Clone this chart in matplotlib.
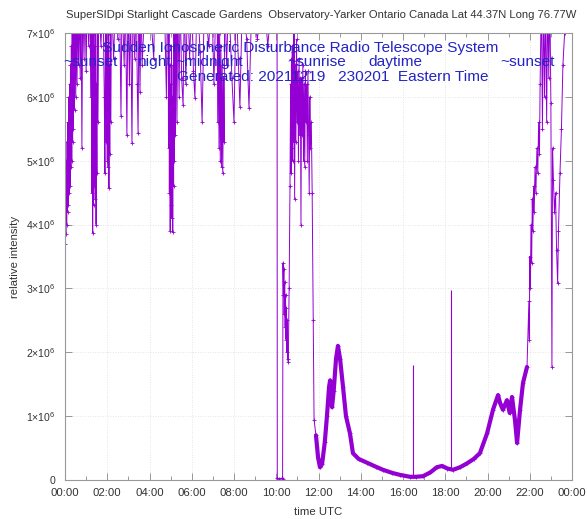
import numpy as np
import matplotlib
matplotlib.use('Agg')
import matplotlib.pyplot as plt
from matplotlib.ticker import FuncFormatter, MultipleLocator

plt.rcParams['font.family'] = ['Liberation Sans', 'DejaVu Sans']
plt.rcParams['mathtext.fontset'] = 'custom'
plt.rcParams['mathtext.rm'] = 'Liberation Sans'
plt.rcParams['mathtext.it'] = 'Liberation Sans:italic'

# Signal as (hour UTC, relative intensity in millions).
# 7.6 means the trace is above the top of the plot (clipped).
night = [
    (0.00, 3.70), (0.02, 4.50), (0.04, 3.85), (0.06, 5.00), (0.08, 4.00),
    (0.10, 5.30), (0.12, 4.20), (0.14, 5.60), (0.16, 4.30), (0.18, 6.00),
    (0.20, 4.50), (0.22, 6.20), (0.24, 4.60), (0.26, 6.50), (0.28, 4.90),
    (0.30, 6.80), (0.32, 5.00), (0.34, 7.60), (0.36, 5.30), (0.38, 7.60),
    (0.40, 5.50), (0.42, 7.60), (0.45, 5.80), (0.48, 7.60), (0.51, 6.00),
    (0.54, 7.60), (0.57, 6.20), (0.60, 7.60), (0.64, 6.50), (0.68, 7.60),
    (0.72, 6.30), (0.76, 7.60), (0.80, 5.20), (0.84, 7.60), (0.90, 6.60),
    (0.95, 7.60), (1.00, 6.40), (1.05, 7.60), (1.12, 6.80), (1.18, 7.60),
    (1.22, 6.00), (1.25, 7.60), (1.27, 4.50), (1.29, 7.60), (1.31, 3.87),
    (1.33, 6.50), (1.35, 4.30), (1.37, 7.00), (1.39, 4.60), (1.41, 6.80),
    (1.43, 4.40), (1.45, 7.60), (1.47, 4.00), (1.49, 6.20), (1.51, 4.80),
    (1.53, 7.60), (1.56, 5.60), (1.60, 7.60), (1.70, 6.80), (1.80, 7.60),
    (1.86, 6.00), (1.89, 4.80), (1.92, 7.60), (1.95, 5.30), (1.98, 7.60),
    (2.00, 5.00), (2.02, 6.80), (2.04, 4.90), (2.06, 7.00), (2.08, 4.57),
    (2.10, 6.50), (2.12, 5.10), (2.14, 7.60), (2.17, 5.60), (2.20, 7.60),
    (2.30, 6.60), (2.40, 7.60), (2.50, 6.90), (2.58, 7.60), (2.65, 5.70),
    (2.70, 7.60), (2.80, 6.50), (2.86, 7.60), (2.93, 5.40), (2.98, 7.60),
    (3.05, 6.20), (3.10, 7.60), (3.17, 5.27), (3.22, 7.60), (3.30, 6.60),
    (3.38, 7.60), (3.42, 6.20), (3.46, 5.43), (3.50, 7.60), (3.55, 6.07),
    (3.60, 7.60), (3.65, 6.50), (3.80, 7.60), (4.00, 7.60), (4.20, 6.60),
    (4.25, 7.60), (4.50, 7.60), (4.70, 7.60), (4.80, 6.00), (4.85, 7.60),
    (4.88, 7.60), (4.90, 5.20), (4.92, 7.00), (4.94, 4.50), (4.96, 6.50),
    (4.98, 3.90), (5.00, 6.20), (5.02, 4.30), (5.04, 6.80), (5.06, 4.10),
    (5.08, 6.00), (5.10, 3.88), (5.12, 6.50), (5.14, 4.60), (5.16, 7.00),
    (5.18, 5.00), (5.20, 7.60), (5.23, 5.40), (5.26, 7.60), (5.30, 5.60),
    (5.34, 7.60), (5.40, 6.00), (5.45, 7.60), (5.52, 6.30), (5.59, 5.87),
    (5.65, 7.60), (5.72, 6.20), (5.80, 7.60), (5.90, 6.60), (6.00, 7.60),
    (6.08, 6.40), (6.15, 5.98), (6.25, 7.60), (6.40, 6.70), (6.49, 5.60),
    (6.60, 7.60), (6.80, 6.80), (6.95, 7.60), (7.05, 6.20), (7.15, 7.60),
    (7.20, 7.60), (7.23, 5.60), (7.26, 7.60), (7.29, 5.20), (7.32, 7.00),
    (7.35, 5.00), (7.38, 6.80), (7.41, 4.90), (7.44, 6.50), (7.47, 4.80),
    (7.50, 6.30), (7.53, 5.30), (7.56, 7.60), (7.65, 6.50), (7.75, 7.60),
    (7.90, 6.30), (8.00, 5.60), (8.10, 7.60), (8.20, 6.60), (8.28, 5.84),
    (8.40, 7.60), (8.60, 6.90), (8.71, 5.82), (8.85, 7.60), (9.10, 6.90),
    (9.40, 7.60), (9.60, 6.80), (9.80, 7.60), (10.04, 7.60),
]

dawn = [
    (10.05, 0.03), (10.15, 0.02), (10.25, 0.03), (10.30, 0.02), (10.32, 3.40),
    (10.34, 2.90), (10.36, 3.30), (10.38, 2.60), (10.40, 3.10), (10.42, 2.40),
    (10.44, 2.90), (10.46, 2.20), (10.48, 2.70), (10.50, 2.00), (10.52, 2.50),
    (10.54, 1.90), (10.57, 1.85), (10.61, 3.00), (10.65, 4.60), (10.68, 6.20),
    (10.70, 4.80), (10.72, 6.60), (10.74, 5.20), (10.76, 6.80), (10.78, 5.00),
    (10.80, 6.70), (10.82, 5.30), (10.84, 7.00), (10.87, 4.40), (10.90, 6.50),
    (10.93, 5.30), (10.96, 6.90), (10.99, 5.60), (11.02, 6.40), (11.05, 5.00),
    (11.08, 6.60), (11.11, 5.40), (11.14, 6.30), (11.17, 4.00), (11.20, 6.30),
    (11.23, 5.40), (11.26, 6.50), (11.29, 5.00), (11.32, 6.20), (11.35, 4.90),
    (11.38, 6.40), (11.41, 5.60), (11.44, 6.20), (11.47, 5.00), (11.50, 6.40),
    (11.53, 5.40), (11.56, 4.50), (11.59, 6.00), (11.62, 5.20), (11.66, 5.60),
    (11.70, 4.50),
]

day = [
    (11.75, 2.50), (11.79, 0.94), (11.88, 0.70), (11.98, 0.35), (12.07, 0.20),
    (12.17, 0.25), (12.30, 0.60), (12.40, 1.00), (12.50, 1.46), (12.55, 1.56),
    (12.64, 1.14), (12.72, 1.40), (12.83, 1.90), (12.92, 2.10), (13.02, 1.90),
    (13.16, 1.46), (13.30, 1.00), (13.49, 0.73), (13.63, 0.42), (13.90, 0.33),
    (14.30, 0.27), (14.70, 0.21), (15.05, 0.16), (15.50, 0.11), (15.86, 0.08),
    (16.33, 0.05), (16.60, 0.05), (16.95, 0.06), (17.30, 0.12), (17.60, 0.20),
    (17.85, 0.22), (18.10, 0.18), (18.37, 0.16), (18.70, 0.20), (19.03, 0.26),
    (19.35, 0.33), (19.64, 0.42), (19.98, 0.73), (20.26, 1.10), (20.50, 1.33),
    (20.60, 1.20), (20.73, 1.10), (20.92, 1.25), (21.05, 1.05), (21.16, 1.30),
    (21.30, 0.94), (21.40, 0.58), (21.54, 1.10), (21.68, 1.52), (21.87, 1.77),
]

dusk = [
    (21.96, 2.80), (21.98, 2.20), (22.00, 3.50), (22.03, 3.00), (22.06, 4.00),
    (22.09, 3.40), (22.12, 4.40), (22.15, 3.90), (22.18, 4.60), (22.21, 4.20),
    (22.25, 4.90), (22.29, 4.50), (22.34, 5.20), (22.38, 4.80), (22.42, 5.60),
    (22.46, 5.10), (22.49, 6.20), (22.55, 7.60), (22.60, 5.50), (22.65, 7.60),
    (22.70, 6.00), (22.75, 7.60), (22.80, 5.60), (22.85, 7.60), (22.90, 6.30),
    (22.95, 7.60), (23.00, 5.90), (23.05, 1.77), (23.08, 5.20), (23.12, 4.70),
    (23.17, 4.20), (23.22, 4.50), (23.27, 3.60), (23.32, 3.08), (23.36, 3.90),
    (23.43, 4.80), (23.50, 5.50), (23.57, 6.50), (23.65, 7.00), (23.72, 7.60),
]

# isolated spikes during the day: (time, base, top)
spike_t = [16.47, 18.27]
spike_base = [0.05, 0.17]
spike_top = [1.80, 2.97]

hour_ticks = list(range(0, 25, 2))
hour_labels = ['%02d:00' % (h % 24) for h in hour_ticks]

title = 'SuperSIDpi Starlight Cascade Gardens  Observatory-Yarker Ontario Canada Lat 44.37N Long 76.77W'

pts = np.array(night + dawn + day + dusk)
t = pts[:, 0]
v = pts[:, 1] * 1e6

purple = '#9400d3'
blue = '#2424c4'

W, H = 587, 519
fig = plt.figure(figsize=(W / 100, H / 100), dpi=100)
ax = fig.add_axes([65 / W, 1 - 480 / H, 507 / W, 447 / H])

ax.plot(t, v, color=purple, lw=0.7, marker='+', ms=3, mew=0.6)
# the quiet daytime signal is a thick noisy band in the original
thick = (t >= 11.85) & (t <= 21.9)
ax.plot(t[thick], v[thick], color=purple, lw=3.0, solid_joinstyle='round',
        solid_capstyle='round')
ax.vlines(spike_t, np.array(spike_base) * 1e6, np.array(spike_top) * 1e6,
          color=purple, lw=0.8)

ax.set_xlim(0, 24)
ax.set_ylim(0, 7e6)
ax.set_xticks(hour_ticks)
ax.set_xticklabels(hour_labels)
ax.xaxis.set_minor_locator(MultipleLocator(1))
ax.yaxis.set_major_locator(MultipleLocator(1e6))


def sci(y, pos):
    k = int(round(y / 1e6))
    return '0' if k == 0 else r'$%d{\times}10^{6}$' % k


ax.yaxis.set_major_formatter(FuncFormatter(sci))

ax.tick_params(which='both', direction='in', top=True, right=True,
               colors='#888888', labelcolor='#333333', width=0.6)
ax.tick_params(axis='x', labelsize=8.2, pad=6)
ax.tick_params(axis='y', labelsize=7.6, pad=7)
ax.tick_params(which='major', length=5)
ax.tick_params(which='minor', length=3)
for s in ax.spines.values():
    s.set_color('#999999')
    s.set_linewidth(0.8)

ax.grid(True, which='major', color='#dddddd', lw=0.6, ls=(0, (1, 2)))
ax.set_axisbelow(True)

ax.set_xlabel('time UTC', fontsize=8.2, color='#333333', labelpad=6)
ax.set_ylabel('relative intensity', fontsize=8.2, color='#333333', labelpad=4)


def px(x, y):
    return x / W, 1 - y / H


fig.text(*px(66, 15), title, fontsize=8.1, color='#333333', ha='left', va='center')
fig.text(*px(102, 48), 'Sudden Ionospheric Disturbance Radio Telescope System',
         fontsize=11.1, color=blue, ha='left', va='center')
for label, x0 in [('~sunset', 63), ('night', 138), ('~midnight', 175),
                  ('~sunrise', 287), ('daytime', 368), ('~sunset', 500)]:
    fig.text(*px(x0, 62), label, fontsize=11.1, color=blue, ha='left', va='center')
fig.text(*px(177, 77), 'Generated: 20211219   230201  Eastern Time',
         fontsize=11.1, color=blue, ha='left', va='center')

fig.savefig('out.png', dpi=100)
